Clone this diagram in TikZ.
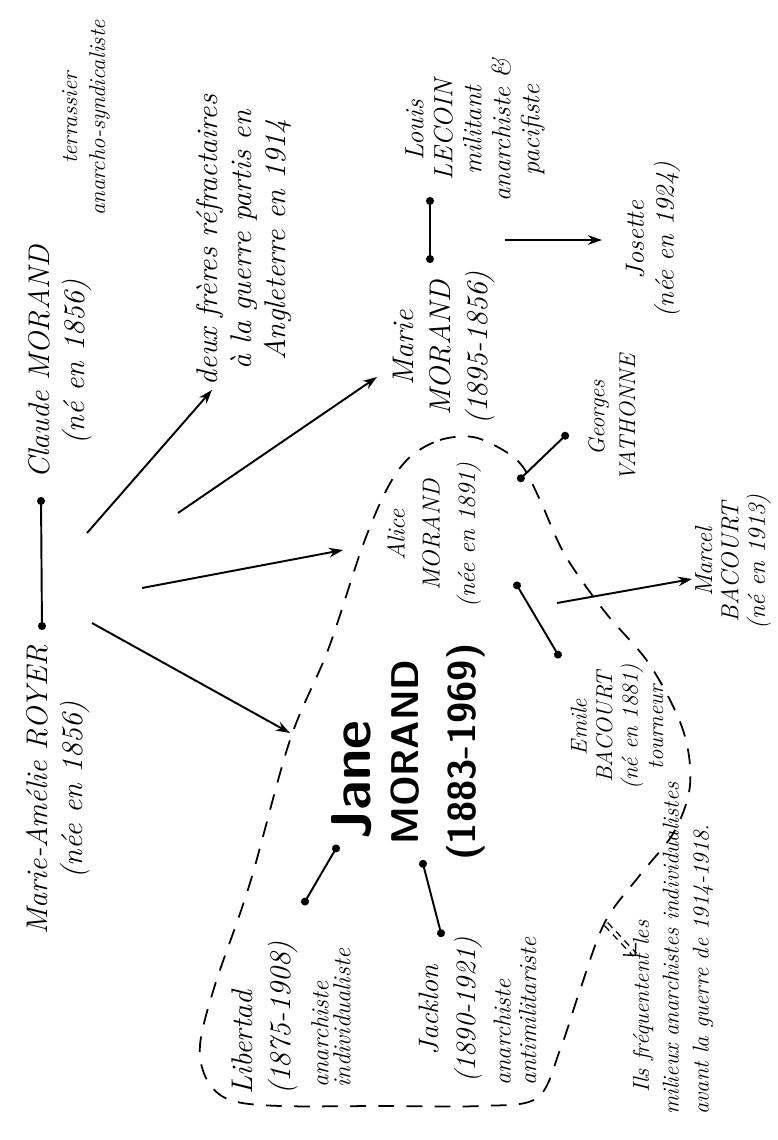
\documentclass[tikz,border=0pt]{standalone}
\usepackage{fontspec}
\usetikzlibrary{arrows.meta}

\begin{document}
\begin{tikzpicture}[x=0.02cm, y=-0.02cm,
  hand/.style={rotate=90, align=center, inner sep=1pt, font=\fontsize{17}{20}\selectfont\itshape},
  couple/.style={line width=1.1pt, {Circle[length=4.5pt]}-{Circle[length=4.5pt]}},
  kid/.style={line width=1.1pt, -{Stealth[length=8pt,width=5.5pt]}},
  group/.style={line width=1pt, dash pattern=on 9pt off 7pt}]
\useasboundingbox (0,0) rectangle (778,1140);
%parents
\node[hand] (royer) at (58,790) {Marie-Amélie ROYER\\(née en 1856)};
\node[hand] (claude) at (60,362) {Claude MORAND\\(né en 1856)};
\node[hand, font=\fontsize{13}{16}\selectfont\itshape] (claudeJob) at (86,118) {terrassier\\anarcho-syndicaliste};
\coordinate (royerDot) at (42,630);
\coordinate (claudeDot) at (41,497);
\draw[couple] (royerDot) -- (claudeDot);
%children
\node[hand, font=\fontsize{17}{19.5}\selectfont\itshape] (freres) at (244,240) {deux frères réfractaires\\à la guerre partis en\\Angleterre en 1914};
\node[hand, font=\fontsize{17}{21}\selectfont\itshape] (marie) at (444,348) {Marie\\MORAND\\(1895-1856)};
\node[hand, font=\fontsize{14}{20}\selectfont\itshape] (alice) at (434,535) {Alice\\MORAND\\(née en 1891)};
\node[hand, font=\fontsize{32}{34}\selectfont\sffamily\bfseries] (jane) at (352,780) {Jane};
\node[hand, font=\fontsize{22}{32}\selectfont\sffamily\bfseries] (janeName) at (438,752) {MORAND\\(1883-1969)};
\coordinate (kidA) at (87,533);
\coordinate (kidB) at (178,513);
\coordinate (kidC) at (142,588);
\coordinate (kidD) at (92,623);
\coordinate (toFreres) at (212,390);
\coordinate (toMarie) at (377,377);
\coordinate (toAlice) at (343,550);
\coordinate (toJane) at (290,733);
\draw[kid] (kidA) -- (toFreres);
\draw[kid] (kidB) -- (toMarie);
\draw[kid] (kidC) -- (toAlice);
\draw[kid] (kidD) -- (toJane);
%Marie and Louis
\node[hand, font=\fontsize{15}{16.5}\selectfont\itshape] (louis) at (475,130) {Louis\\LECOIN\\militant\\anarchiste \&\\pacifiste};
\node[hand, font=\fontsize{15}{17}\selectfont\itshape] (josette) at (653,240) {Josette\\(née en 1924)};
\coordinate (marieDot) at (430,263);
\coordinate (louisDot) at (430,197);
\draw[couple] (marieDot) -- (louisDot);
\coordinate (kidF) at (505,240);
\coordinate (toJosette) at (602,240);
\draw[kid] (kidF) -- (toJosette);
%Jane
\node[hand, font=\fontsize{17}{22}\selectfont\itshape, align=left, anchor=west] (libertad) at (265,1097) {Libertad\\(1875-1908)};
\node[hand, font=\fontsize{14}{12.5}\selectfont\itshape, align=left, anchor=west] (libertadNote) at (331,1090) {anarchiste\\individualiste};
\node[hand, font=\fontsize{16}{21}\selectfont\itshape] (jacklon) at (451,1010) {Jacklon\\(1890-1921)};
\node[hand, font=\fontsize{14}{14.5}\selectfont\itshape, align=left, anchor=west] (jacklonNote) at (515,1088) {anarchiste\\antimilitariste};
\coordinate (libDot) at (303,905);
\coordinate (janeDotL) at (338,845);
\draw[couple] (libDot) -- (janeDotL);
\coordinate (janeDotJ) at (422,860);
\coordinate (jackDot) at (442,937);
\draw[couple] (janeDotJ) -- (jackDot);
%Alice
\node[hand, font=\fontsize{13}{17.5}\selectfont\itshape] (georges) at (612,418) {Georges\\VATHONNE};
\node[hand, font=\fontsize{13}{14.5}\selectfont\itshape] (emile) at (617,727) {Emile\\BACOURT\\(né en 1881)\\tourneur};
\node[hand, font=\fontsize{14}{15}\selectfont\itshape] (marcel) at (733,562) {Marcel\\BACOURT\\(né en 1913)};
\coordinate (aliceDotG) at (518,481);
\coordinate (georgesDot) at (568,433);
\draw[couple] (aliceDotG) -- (georgesDot);
\coordinate (aliceDotE) at (515,582);
\coordinate (emileDot) at (560,658);
\draw[couple] (aliceDotE) -- (emileDot);
\coordinate (kidE) at (557,603);
\coordinate (toMarcel) at (692,579);
\draw[kid] (kidE) -- (toMarcel);
%group
\draw[group] plot[smooth cycle, tension=0.55] coordinates {
  (410,457) (440,440) (473,437) (503,450) (523,467) (540,500) (565,555)
  (605,612) (650,665) (683,730) (690,785) (674,832) (640,875) (605,922)
  (580,990) (560,1050) (537,1098) (480,1106) (380,1106) (280,1106)
  (230,1100) (207,1080) (200,1045) (215,985) (250,883) (290,740)
  (328,650) (363,545) (388,487)};
\node[hand, font=\fontsize{13}{17}\selectfont\itshape, align=left, anchor=west] (ils) at (673,1117) {\hspace*{0.45cm}Ils fréquentent les\\milieux anarchistes individualistes\\avant la guerre de 1914-1918.};
\coordinate (groupEdge) at (606,924);
\coordinate (toIls) at (636,956);
\draw[line width=0.8pt, double, double distance=1.6pt, dash pattern=on 4pt off 3pt, -{Straight Barb[length=5pt]}] (groupEdge) -- (toIls);
\end{tikzpicture}
\end{document}
